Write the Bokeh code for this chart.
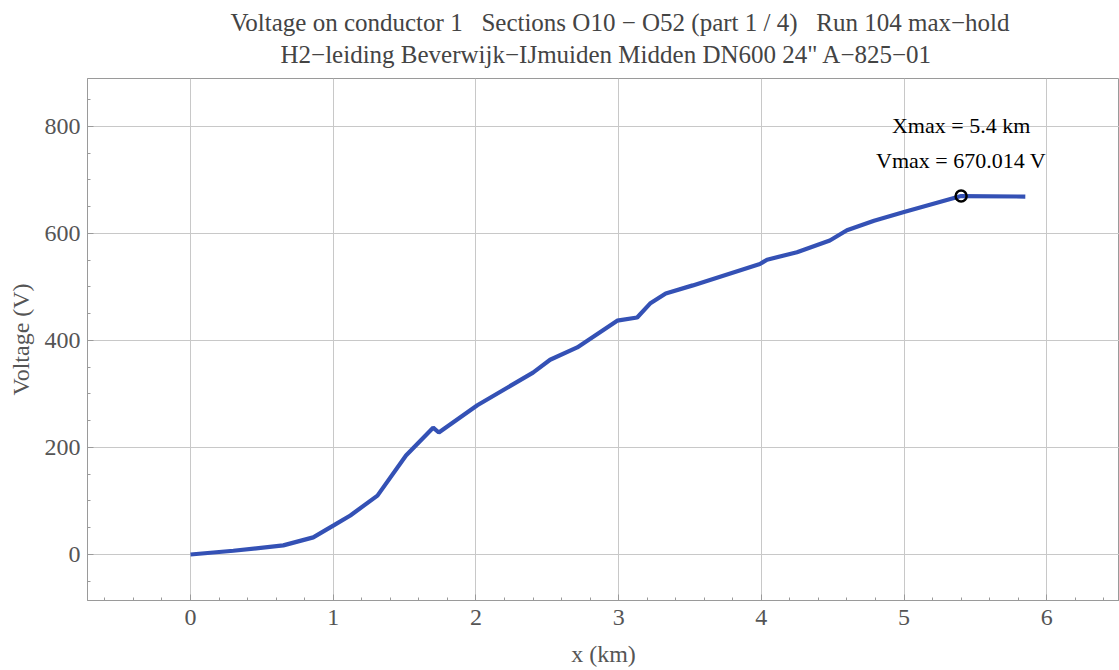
from bokeh.plotting import figure
from bokeh.models import Range1d, SingleIntervalTicker, Title, Label
from bokeh.embed import file_html
from bokeh.resources import INLINE

# ---- data ----
x_km = [0.0, 0.3, 0.65, 0.86, 1.0, 1.12, 1.31, 1.51, 1.70, 1.74, 2.01, 2.40, 2.52,
        2.71, 2.99, 3.13, 3.22, 3.33, 3.52, 3.99, 4.04, 4.25, 4.48, 4.60, 4.79,
        5.0, 5.4, 5.85]
voltage = [0, 7, 17, 32, 54, 73, 110, 185, 237, 228, 279, 340, 364,
           387, 437, 443, 469, 488, 503, 543, 551, 565, 587, 606, 624,
           640, 670.014, 669]
x_max = 5.4
v_max = 670.014
title_line1 = "Voltage on conductor 1\u00a0\u00a0\u00a0Sections O10 \u2212 O52 (part 1 / 4)\u00a0\u00a0\u00a0Run 104 max\u2212hold"
title_line2 = "H2\u2212leiding Beverwijk\u2212IJmuiden Midden DN600 24\" A\u2212825\u221201"
x_label = "x (km)"
y_label = "Voltage (V)"

FONT = "Liberation Serif"
GRAY_TXT = "#555555"

p = figure(width=1119, height=670, output_backend="svg", toolbar_location=None,
           x_range=Range1d(-0.722, 6.510), y_range=Range1d(-86, 889.7),
           min_border_left=87, min_border_right=0, min_border_top=78,
           min_border_bottom=70)

p.add_layout(Title(text=title_line1 + "\n" + "\u00a0" * 8 + title_line2,
                   align="left", offset=143, vertical_align="top",
                   text_font=FONT, text_font_size="25px", text_font_style="normal",
                   text_line_height=1.2,
                   text_color="#444444", standoff=17), "above")

p.line(x_km, voltage, line_color="#3451b5", line_width=4.2)
p.scatter([x_max], [v_max], size=11, fill_color=None, line_color="black",
          line_width=2.5)

p.add_layout(Label(x=x_max, y=v_max, text=f"Xmax = {x_max} km", y_offset=71,
                   text_align="center", text_baseline="middle", text_font=FONT,
                   text_font_size="22px", text_color="black"))
p.add_layout(Label(x=x_max, y=v_max, text=f"Vmax = {v_max} V", y_offset=36,
                   text_align="center", text_baseline="middle", text_font=FONT,
                   text_font_size="22px", text_color="black"))

p.xaxis.ticker = SingleIntervalTicker(interval=1, num_minor_ticks=5)
p.yaxis.ticker = SingleIntervalTicker(interval=200, num_minor_ticks=4)
p.xaxis.axis_label = x_label
p.yaxis.axis_label = y_label

for ax in (p.xaxis, p.yaxis):
    ax.axis_line_color = "#9a9a9a"
    ax.major_tick_line_color = "#9a9a9a"
    ax.minor_tick_line_color = "#9a9a9a"
    ax.major_tick_in = 6
    ax.major_tick_out = 0
    ax.minor_tick_in = 3
    ax.minor_tick_out = 0
    ax.major_label_text_font = FONT
    ax.major_label_text_font_size = "24px"
    ax.major_label_text_color = GRAY_TXT
    ax.axis_label_text_font = FONT
    ax.axis_label_text_font_size = "24px"
    ax.axis_label_text_font_style = "normal"
    ax.axis_label_text_color = GRAY_TXT

p.xaxis.major_label_standoff = 9
p.xaxis.axis_label_standoff = 13
p.yaxis.major_label_standoff = 7
p.yaxis.axis_label_standoff = 8

p.grid.grid_line_color = "#c8c8c8"
p.grid.grid_line_width = 1
p.outline_line_color = "#9a9a9a"
p.background_fill_color = "white"
p.border_fill_color = "white"

open("out.html", "w").write(file_html(p, INLINE))
